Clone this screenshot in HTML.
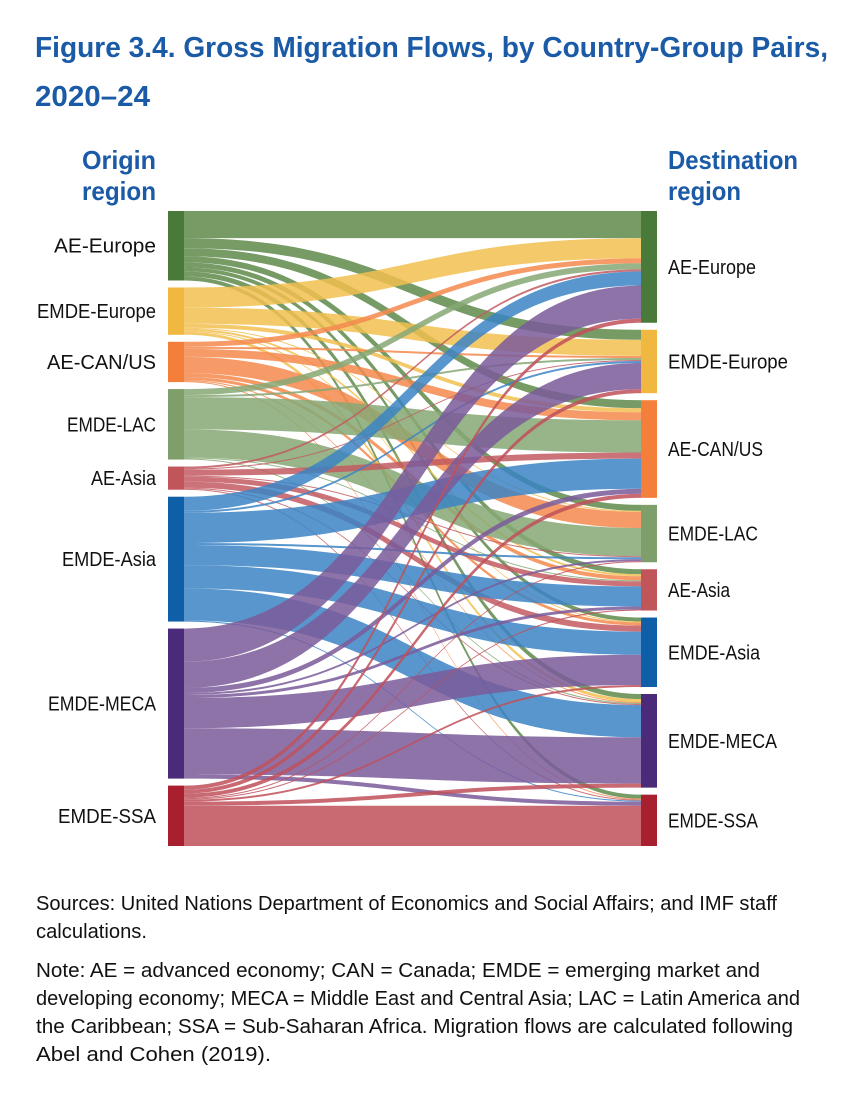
<!DOCTYPE html>
<html><head><meta charset="utf-8"><style>
html,body{margin:0;padding:0;background:#fff;}
svg{display:block;}
text{font-family:"Liberation Sans",sans-serif;}
</style></head><body>
<svg id="chart" width="846" height="1104" viewBox="0 0 846 1104" xmlns="http://www.w3.org/2000/svg">
<g fill="#1a5aa6" font-weight="bold" font-size="29">
<text x="35" y="57" textLength="793" lengthAdjust="spacingAndGlyphs">Figure 3.4.  Gross Migration Flows, by Country-Group Pairs,</text>
<text x="35" y="106" textLength="115" lengthAdjust="spacingAndGlyphs">2020–24</text>
</g>
<g fill="#1a5aa6" font-weight="bold" font-size="26">
<text x="156" y="169" text-anchor="end" textLength="74" lengthAdjust="spacingAndGlyphs">Origin</text>
<text x="156" y="200" text-anchor="end" textLength="74" lengthAdjust="spacingAndGlyphs">region</text>
</g>
<g fill="#1a5aa6" font-weight="bold" font-size="26">
<text x="668" y="169" textLength="130" lengthAdjust="spacingAndGlyphs">Destination</text>
<text x="668" y="200" textLength="73" lengthAdjust="spacingAndGlyphs">region</text>
</g>
<g id="links"></g>
<g id="nodes"></g>
<g id="labels" font-size="20" fill="#111"></g>
<g font-size="20" fill="#111">
<text x="36" y="910" textLength="741" lengthAdjust="spacingAndGlyphs">Sources: United Nations Department of Economics and Social Affairs; and IMF staff</text>
<text x="36" y="938" textLength="111" lengthAdjust="spacingAndGlyphs">calculations.</text>
<text x="36" y="977" textLength="724" lengthAdjust="spacingAndGlyphs">Note: AE = advanced economy; CAN = Canada; EMDE = emerging market and</text>
<text x="36" y="1005" textLength="764" lengthAdjust="spacingAndGlyphs">developing economy; MECA = Middle East and Central Asia; LAC = Latin America and</text>
<text x="36" y="1033" textLength="757" lengthAdjust="spacingAndGlyphs">the Caribbean; SSA = Sub-Saharan Africa. Migration flows are calculated following</text>
<text x="36" y="1061" textLength="235" lengthAdjust="spacingAndGlyphs">Abel and Cohen (2019).</text>
</g>
</svg>
<script>
const regions = ["AE-Europe","EMDE-Europe","AE-CAN/US","EMDE-LAC","AE-Asia","EMDE-Asia","EMDE-MECA","EMDE-SSA"];
const nodeColors = ["#4a7a3a","#f0b840","#f47f3a","#7f9f6a","#c0565a","#0f5ea8","#4b2a7a","#a8202e"];
const linkColors = ["#5e8a4a","#f2bf50","#f58a4e","#86a874","#c25a60","#3b84c4","#7a5a9a","#c0505a"];
// rows = origin, columns = destination (same order as regions)
const flowAEEurope   = [27,10, 8, 6, 5, 4, 5, 4];
const flowEMDEEurope = [20,16, 4, 1, 2, 1, 3, 0];
const flowAECANUS    = [ 5, 2, 8,16, 4, 3, 1, 1];
const flowEMDELAC    = [ 6, 2,32,28, 1, 0, 1, 0];
const flowAEAsia     = [ 2, 1, 6, 1, 5, 6, 1, 1];
const flowEMDEAsia   = [14, 2,30, 2,20,23,32, 1];
const flowEMDEMECA   = [33,26, 5, 2, 3,30,46, 4];
const flowEMDESSA    = [ 4, 4, 4, 1, 1, 2, 4,40];
const flows = [flowAEEurope,flowEMDEEurope,flowAECANUS,flowEMDELAC,flowAEAsia,flowEMDEAsia,flowEMDEMECA,flowEMDESSA];

const NS="http://www.w3.org/2000/svg";
const top0=211, bottom=846, pad=7, xL0=168, xL1=184, xR0=641, xR1=657;
const n=regions.length;
const outT=flows.map(r=>r.reduce((a,b)=>a+b,0));
const inT=regions.map((_,j)=>flows.reduce((a,r)=>a+r[j],0));
const k=Math.min((bottom-top0-pad*(n-1))/outT.reduce((a,b)=>a+b,0),(bottom-top0-pad*(n-1))/inT.reduce((a,b)=>a+b,0));
function stack(tot){let y=top0;return tot.map(t=>{const h=t*k;const r={y0:y,y1:y+h};y+=h+pad;return r;});}
const L=stack(outT), R=stack(inT);
const gL=document.getElementById('links'), gN=document.getElementById('nodes'), gT=document.getElementById('labels');
const sOff=L.map(d=>d.y0), tOff=R.map(d=>d.y0);
const tStart=[];
for(let i=0;i<n;i++){tStart.push([]);}
for(let j=0;j<n;j++){for(let i=0;i<n;i++){tStart[i][j]=tOff[j];tOff[j]+=flows[i][j]*k;}}
const xm=(xL1+xR0)/2;
for(let i=0;i<n;i++){
  for(let j=0;j<n;j++){
    const w=flows[i][j]*k; if(w<=0) continue;
    const s0=sOff[i], s1=s0+w; sOff[i]=s1;
    const t0=tStart[i][j], t1=t0+w;
    const p=document.createElementNS(NS,'path');
    p.setAttribute('d',`M${xL1},${s0}C${xm},${s0} ${xm},${t0} ${xR0},${t0}L${xR0},${t1}C${xm},${t1} ${xm},${s1} ${xL1},${s1}Z`);
    p.setAttribute('fill',linkColors[i]);p.setAttribute('fill-opacity','0.85');
    
    
    gL.appendChild(p);
  }
}
const leftW=[102,119,109,89,65,94,108,98], rightW=[88,120,95,90,62,92,109,90];
for(let i=0;i<n;i++){
  const a=document.createElementNS(NS,'rect');
  a.setAttribute('x',xL0);a.setAttribute('y',L[i].y0);a.setAttribute('width',xL1-xL0);a.setAttribute('height',L[i].y1-L[i].y0);a.setAttribute('fill',nodeColors[i]);
  
  
  gN.appendChild(a);
  const b=document.createElementNS(NS,'rect');
  b.setAttribute('x',xR0);b.setAttribute('y',R[i].y0);b.setAttribute('width',xR1-xR0);b.setAttribute('height',R[i].y1-R[i].y0);b.setAttribute('fill',nodeColors[i]);
  
  
  gN.appendChild(b);
  const t1=document.createElementNS(NS,'text');
  t1.setAttribute('x',156);t1.setAttribute('y',(L[i].y0+L[i].y1)/2+7);t1.setAttribute('text-anchor','end');
  t1.setAttribute('textLength',leftW[i]);t1.setAttribute('lengthAdjust','spacingAndGlyphs');t1.textContent=regions[i];
  
  
  gT.appendChild(t1);
  const t2=document.createElementNS(NS,'text');
  t2.setAttribute('x',668);t2.setAttribute('y',(R[i].y0+R[i].y1)/2+7);
  t2.setAttribute('textLength',rightW[i]);t2.setAttribute('lengthAdjust','spacingAndGlyphs');t2.textContent=regions[i];
  
  
  gT.appendChild(t2);
}
</script>
</body></html>
